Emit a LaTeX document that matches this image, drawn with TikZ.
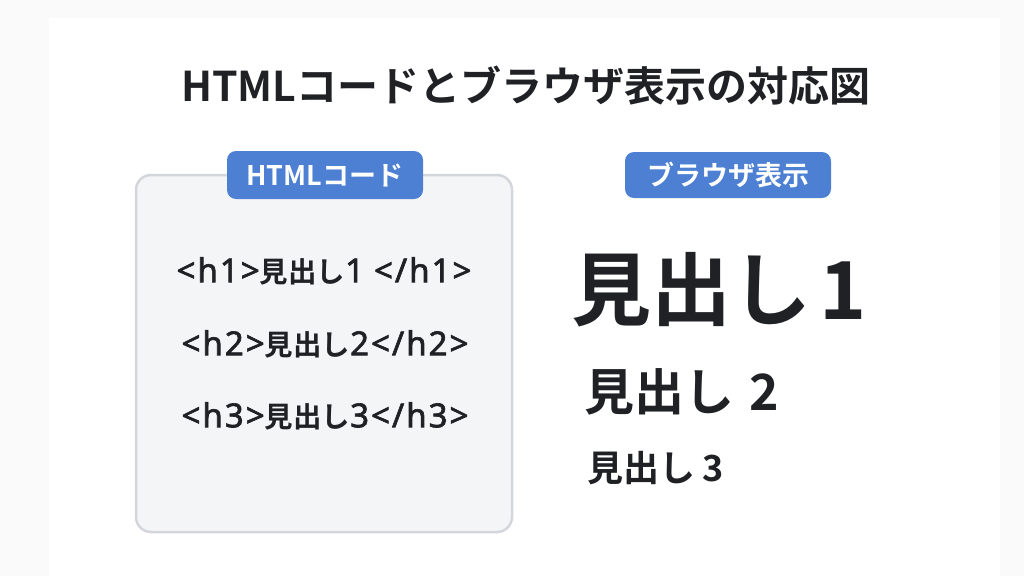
\documentclass[tikz,border=0pt]{standalone}
\usepackage{fontspec}
\newfontfamily\jpb{Noto Sans CJK JP Bold}
\newfontfamily\lat{Noto Sans}[Scale=1.16, FakeBold=2, LetterSpace=6]
\newcommand{\latb}[1]{{\lat #1}}
\definecolor{tabblue}{HTML}{4D80D2}
\definecolor{boxfill}{HTML}{F4F5F7}
\definecolor{boxline}{HTML}{D3D6DA}
\definecolor{ink}{HTML}{1F2125}
\definecolor{outerbg}{HTML}{FAFAFB}
\tikzset{
  tab/.style={fill=tabblue, rounded corners=9pt, text=white, inner sep=0pt, minimum height=48pt, font=\jpb\fontsize{27}{32}\selectfont},
  codeline/.style={text=ink, inner sep=0pt, font=\jpb\fontsize{28.5}{34}\selectfont},
  head/.style={text=ink, inner sep=0pt, anchor=west}
}
\begin{document}
\begin{tikzpicture}[x=1pt,y=-1pt]
\useasboundingbox (0,0) rectangle (1024,576);
\fill[outerbg] (0,0) rectangle (1024,576);
\fill[white] (49,18) rectangle (1000,576);
\node[text=ink, inner sep=0pt, font=\jpb\fontsize{41}{48}\selectfont] (title) at (526,86) {HTMLコードとブラウザ表示の対応図};
\draw[boxline, line width=2.5pt, fill=boxfill, rounded corners=15pt] (136,175) rectangle (512,532);
\node[tab, minimum width=196pt] (tabL) at (325,175) {HTMLコード};
\node[tab, minimum width=206pt, minimum height=46pt] (tabR) at (728,175) {ブラウザ表示};
\node[codeline] (c1) at (324,271) {\latb{<h1>}見出し\latb{1\hspace{0.3em}</h1>}};
\node[codeline] (c2) at (325,344) {\latb{<h2>}見出し\latb{2</h2>}};
\node[codeline] (c3) at (325,416) {\latb{<h3>}見出し\latb{3</h3>}};
\node[head, font=\jpb\fontsize{80}{90}\selectfont] (r1) at (571,290) {見出し\hspace{0.1em}1};
\node[head, font=\jpb\fontsize{50}{60}\selectfont] (r2) at (584,392) {見出し\hspace{0.3em}2};
\node[head, font=\jpb\fontsize{36}{42}\selectfont] (r3) at (587,468) {見出し\hspace{0.2em}3};
\end{tikzpicture}
\end{document}
